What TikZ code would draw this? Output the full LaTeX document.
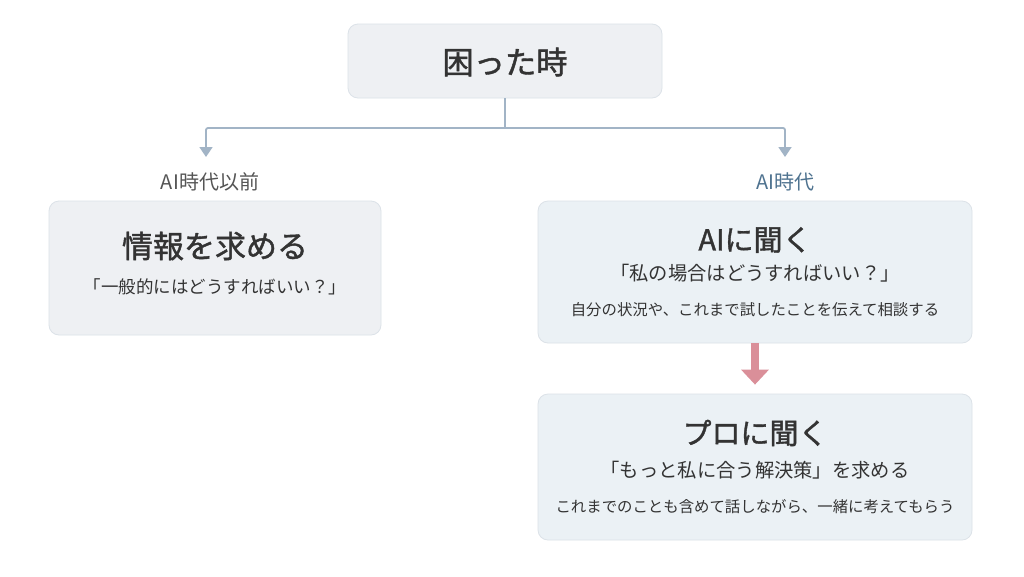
\documentclass[tikz,border=0pt]{standalone}
\usepackage{fontspec}
\newfontfamily\jp{Noto Sans CJK JP}
\newfontfamily\jpm[FakeBold=1.3]{Noto Sans CJK JP}
\usetikzlibrary{arrows.meta}
\definecolor{txt}{HTML}{333333}
\definecolor{boxgray}{HTML}{EEF0F3}
\definecolor{boxblue}{HTML}{EBF1F5}
\definecolor{boxline}{HTML}{DCE2E8}
\definecolor{conn}{HTML}{A2B4C6}
\definecolor{lblgray}{HTML}{555555}
\definecolor{lblblue}{HTML}{4F7390}
\definecolor{redarrow}{HTML}{DA8F99}
\tikzset{
  card/.style={draw=boxline, line width=0.8pt, rounded corners=10pt, inner sep=0pt},
  ttl/.style={font=\jpm\fontsize{29}{33}\selectfont, text=txt},
  sub/.style={font=\jp\fontsize{19.3}{23}\selectfont, text=txt},
  note/.style={font=\jp\fontsize{15.4}{18}\selectfont, text=txt},
  lbl/.style={font=\jp\fontsize{20}{24}\selectfont},
  conline/.style={draw=conn, line width=1.8pt, rounded corners=2pt, -{Triangle[width=13pt,length=10pt]}},
}
\begin{document}
\begin{tikzpicture}[x=1pt,y=-1pt]
\useasboundingbox (0,0) rectangle (1024,576);
\fill[white] (0,0) rectangle (1024,576);
% boxes
\node[card, fill=boxgray, minimum width=314pt, minimum height=74pt] (top) at (505,61) {};
\node[ttl, font=\jpm\fontsize{31.3}{35}\selectfont] (toptxt) at (505,62) {困った時};
\node[card, fill=boxgray, minimum width=332pt, minimum height=134pt] (left) at (215,268) {};
\node[ttl, font=\jpm\fontsize{31}{35}\selectfont] (lefttitle) at (215,246) {情報を求める};
\node[sub, font=\jp\fontsize{17.5}{21}\selectfont] (leftsub) at (215,287) {「一般的にはどうすればいい？」};
\node[card, fill=boxblue, minimum width=434pt, minimum height=142pt] (ai) at (755,272) {};
\node[ttl] (aititle) at (755,240) {AIに聞く};
\node[sub] (aisub) at (755,273) {「私の場合はどうすればいい？」};
\node[note] (ainote) at (755,310) {自分の状況や、これまで試したことを伝えて相談する};
\node[card, fill=boxblue, minimum width=434pt, minimum height=146pt] (pro) at (755,467) {};
\node[ttl] (protitle) at (755,433) {プロに聞く};
\node[sub] (prosub) at (755,470) {「もっと私に合う解決策」を求める};
\node[note] (pronote) at (755,507) {これまでのことも含めて話しながら、一緒に考えてもらう};
% labels
\node[lbl, text=lblgray] (lblL) at (210,182) {AI時代以前};
\node[lbl, text=lblblue] (lblR) at (785,182) {AI時代};
% connectors
\coordinate (j) at (505,128);
\coordinate (lt) at (206,157);
\coordinate (rt) at (785,157);
\draw[draw=conn, line width=1.8pt] (top.south) -- (j);
\draw[conline] (j) -| (lt);
\draw[conline] (j) -| (rt);
\draw[draw=redarrow, line width=8pt, -{Triangle[width=27pt,length=15pt]}] (ai.south) -- ([yshift=9pt]pro.north);
\end{tikzpicture}
\end{document}
